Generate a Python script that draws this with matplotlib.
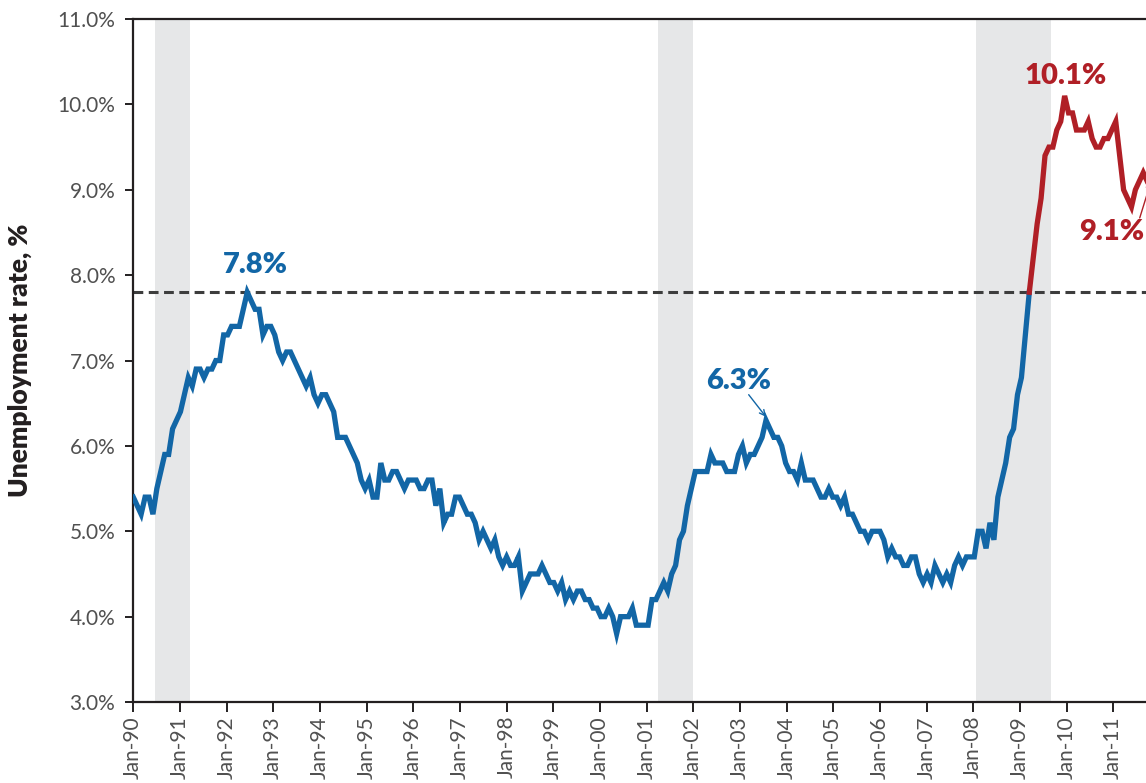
import matplotlib
matplotlib.use("Agg")
import matplotlib.pyplot as plt

# Monthly unemployment rate (%), Jan 1990 - Aug 2011
rate = [
    5.4, 5.3, 5.2, 5.4, 5.4, 5.2, 5.5, 5.7, 5.9, 5.9, 6.2, 6.3,  # 1990
    6.4, 6.6, 6.8, 6.7, 6.9, 6.9, 6.8, 6.9, 6.9, 7.0, 7.0, 7.3,  # 1991
    7.3, 7.4, 7.4, 7.4, 7.6, 7.8, 7.7, 7.6, 7.6, 7.3, 7.4, 7.4,  # 1992
    7.3, 7.1, 7.0, 7.1, 7.1, 7.0, 6.9, 6.8, 6.7, 6.8, 6.6, 6.5,  # 1993
    6.6, 6.6, 6.5, 6.4, 6.1, 6.1, 6.1, 6.0, 5.9, 5.8, 5.6, 5.5,  # 1994
    5.6, 5.4, 5.4, 5.8, 5.6, 5.6, 5.7, 5.7, 5.6, 5.5, 5.6, 5.6,  # 1995
    5.6, 5.5, 5.5, 5.6, 5.6, 5.3, 5.5, 5.1, 5.2, 5.2, 5.4, 5.4,  # 1996
    5.3, 5.2, 5.2, 5.1, 4.9, 5.0, 4.9, 4.8, 4.9, 4.7, 4.6, 4.7,  # 1997
    4.6, 4.6, 4.7, 4.3, 4.4, 4.5, 4.5, 4.5, 4.6, 4.5, 4.4, 4.4,  # 1998
    4.3, 4.4, 4.2, 4.3, 4.2, 4.3, 4.3, 4.2, 4.2, 4.1, 4.1, 4.0,  # 1999
    4.0, 4.1, 4.0, 3.8, 4.0, 4.0, 4.0, 4.1, 3.9, 3.9, 3.9, 3.9,  # 2000
    4.2, 4.2, 4.3, 4.4, 4.3, 4.5, 4.6, 4.9, 5.0, 5.3, 5.5, 5.7,  # 2001
    5.7, 5.7, 5.7, 5.9, 5.8, 5.8, 5.8, 5.7, 5.7, 5.7, 5.9, 6.0,  # 2002
    5.8, 5.9, 5.9, 6.0, 6.1, 6.3, 6.2, 6.1, 6.1, 6.0, 5.8, 5.7,  # 2003
    5.7, 5.6, 5.8, 5.6, 5.6, 5.6, 5.5, 5.4, 5.4, 5.5, 5.4, 5.4,  # 2004
    5.3, 5.4, 5.2, 5.2, 5.1, 5.0, 5.0, 4.9, 5.0, 5.0, 5.0, 4.9,  # 2005
    4.7, 4.8, 4.7, 4.7, 4.6, 4.6, 4.7, 4.7, 4.5, 4.4, 4.5, 4.4,  # 2006
    4.6, 4.5, 4.4, 4.5, 4.4, 4.6, 4.7, 4.6, 4.7, 4.7, 4.7, 5.0,  # 2007
    5.0, 4.8, 5.1, 4.9, 5.4, 5.6, 5.8, 6.1, 6.2, 6.6, 6.8, 7.3,  # 2008
    7.8, 8.2, 8.6, 8.9, 9.4, 9.5, 9.5, 9.7, 9.8, 10.1, 9.9, 9.9,  # 2009
    9.7, 9.7, 9.7, 9.8, 9.6, 9.5, 9.5, 9.6, 9.6, 9.7, 9.8, 9.4,  # 2010
    9.0, 8.9, 8.8, 9.0, 9.1, 9.2, 9.1, 9.1,                      # 2011
]
start_year = 1990
split_month = 228          # Jan 2009: rate at 7.8%, red from here on
reference_rate = 7.8

# recessions (year, month) start / end
rec_start = [(1990, 7), (2001, 3), (2007, 12)]
rec_end = [(1991, 3), (2001, 11), (2009, 6)]

tick_years = list(range(1990, 2012))
tick_labels = [f"Jan-{y % 100:02d}" for y in tick_years]
y_ticks = [3, 4, 5, 6, 7, 8, 9, 10, 11]

BLUE = "#1266a6"
RED = "#b01f26"
SHADE = "#e6e7e8"
DARK = "#231f20"
TICK_TEXT = "#505050"


def month_index(year, month):
    return (year - start_year) * 12 + (month - 1)


months = list(range(len(rate)))

fig = plt.figure(figsize=(11.46, 7.83), dpi=100)
ax = fig.add_axes([0.1163, 0.1034, 0.8837, 0.8723])

for (sy, sm), (ey, em) in zip(rec_start, rec_end):
    ax.axvspan(month_index(sy, sm) - 0.5, month_index(ey, em) + 0.5,
               color=SHADE, lw=0, zorder=0)

ax.axhline(reference_rate, color="#3d3d3d", lw=2.2, dashes=(3.2, 1.8), zorder=2)

ax.plot(months[:split_month + 1], rate[:split_month + 1], color=BLUE, lw=3.8,
        solid_joinstyle="miter", zorder=3)
ax.plot(months[split_month:], rate[split_month:], color=RED, lw=3.8,
        solid_joinstyle="miter", zorder=3)

# ticks in the source sit a little closer than 12 months apart
tick_step = 11.875
ax.set_xticks([i * tick_step for i in range(len(tick_years))])
ax.set_xticklabels(tick_labels, rotation=90, family="Lato", fontsize=15,
                   color=TICK_TEXT)
ax.set_yticks(y_ticks)
ax.set_yticklabels([f"{v:.1f}%" for v in y_ticks], family="Lato",
                   fontsize=15, color=TICK_TEXT)
ax.set_xlim(0, 257.7)
ax.set_ylim(3, 11)

ax.tick_params(axis="y", direction="out", length=6, width=1.4, color=DARK, pad=7)
ax.tick_params(axis="x", direction="out", length=7, width=1.4, color=DARK, pad=3)
for side in ["left", "bottom", "top"]:
    ax.spines[side].set_linewidth(1.6)
    ax.spines[side].set_color(DARK)
ax.spines["right"].set_visible(False)

ax.set_ylabel("Unemployment rate, %", family="Lato", fontweight="heavy",
              fontsize=19, color=DARK, labelpad=18)

# annotations
ann = dict(family="Lato", fontweight="heavy", fontsize=21)
ax.text(31, 8.12, "7.8%", color=BLUE, ha="center", va="center", **ann)
ax.text(237.3, 10.33, "10.1%", color=RED, ha="center", va="center", **ann)
ax.text(154.1, 6.76, "6.3%", color=BLUE, ha="center", va="center", **ann)
ax.text(257.3, 8.5, "9.1%", color=RED, ha="right", va="center", clip_on=False, **ann)

ax.annotate("", xy=(161, 6.34), xytext=(156.6, 6.6),
            arrowprops=dict(arrowstyle="->", color=BLUE, lw=1.0, shrinkA=0, shrinkB=0))
ax.annotate("", xy=(259, 9.1), xytext=(256.1, 8.67), annotation_clip=False,
            arrowprops=dict(arrowstyle="->", color=RED, lw=1.0, shrinkA=0, shrinkB=0))

fig.savefig("out.png", dpi=100)
